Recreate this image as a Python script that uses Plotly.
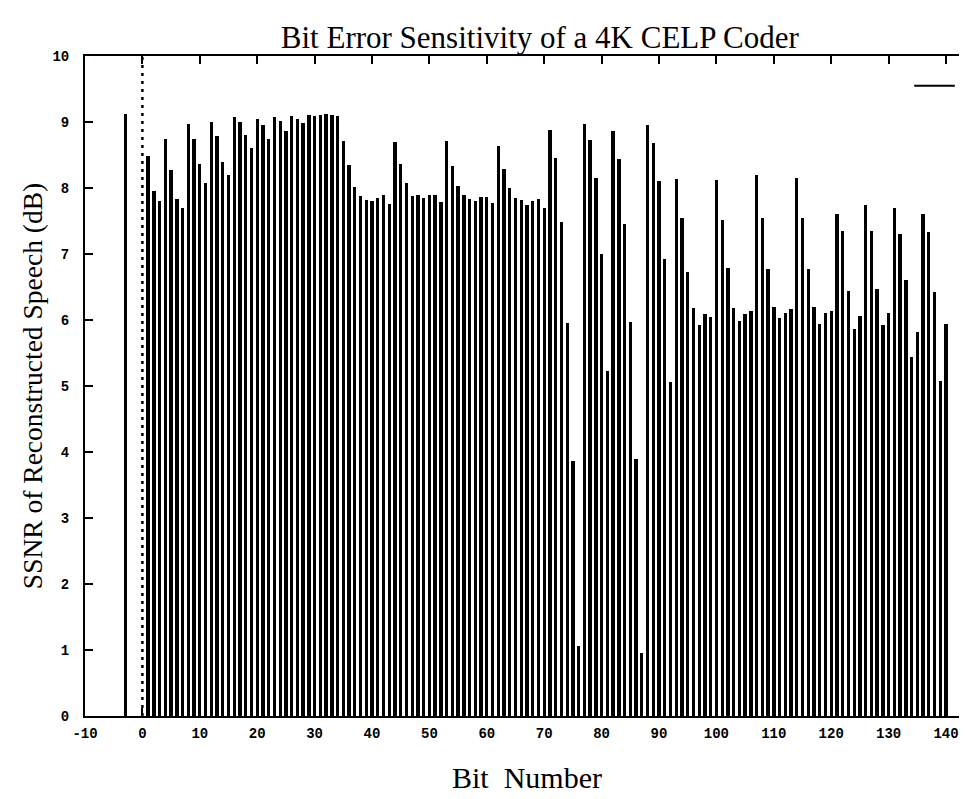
import plotly.graph_objects as go

# Bit numbers and SSNR values (dB)
ref_bit = [-3]
ref_ssnr = [9.12]

bits = list(range(1, 141))
ssnr = [
    8.49, 7.96, 7.81, 8.74, 8.28, 7.84, 7.69, 8.97, 8.75, 8.37,   # 1-10
    8.08, 9.00, 8.79, 8.39, 8.20, 9.08, 9.00, 8.81, 8.60, 9.05,   # 11-20
    8.95, 8.75, 9.07, 9.02, 8.87, 9.09, 9.05, 8.99, 9.11, 9.09,   # 21-30
    9.10, 9.12, 9.11, 9.09, 8.71, 8.35, 8.02, 7.88, 7.82, 7.80,   # 31-40
    7.85, 7.89, 7.76, 8.69, 8.37, 8.08, 7.88, 7.90, 7.85, 7.90,   # 41-50
    7.89, 7.79, 8.71, 8.34, 8.03, 7.90, 7.83, 7.80, 7.86, 7.87,   # 51-60
    7.77, 8.64, 8.29, 8.00, 7.85, 7.82, 7.75, 7.81, 7.83, 7.69,   # 61-70
    8.88, 8.46, 7.49, 5.95, 3.87, 1.06, 8.97, 8.72, 8.15, 7.00,   # 71-80
    5.22, 8.86, 8.44, 7.46, 5.97, 3.89, 0.95, 8.95, 8.68, 8.10,   # 81-90
    6.93, 5.06, 8.13, 7.55, 6.73, 6.18, 5.93, 6.09, 6.05, 8.12,   # 91-100
    7.52, 6.79, 6.18, 5.99, 6.09, 6.13, 8.19, 7.55, 6.77, 6.19,   # 101-110
    6.03, 6.11, 6.16, 8.15, 7.55, 6.77, 6.20, 5.94, 6.10, 6.14,   # 111-120
    7.60, 7.35, 6.44, 5.86, 6.06, 7.75, 7.35, 6.47, 5.92, 6.10,   # 121-130
    7.69, 7.31, 6.61, 5.44, 5.82, 7.61, 7.33, 6.42, 5.07, 5.94,   # 131-140
]

x_ticks = list(range(-10, 141, 10))
y_ticks = list(range(0, 11))

fig = go.Figure()
fig.add_trace(go.Bar(
    x=ref_bit + bits, y=ref_ssnr + ssnr,
    width=0.58, marker=dict(color="black", line=dict(width=0)),
    showlegend=False, hoverinfo="x+y",
))

# dotted zero axis at x = 0
fig.add_shape(type="line", x0=0, x1=0, y0=0, y1=1, xref="x", yref="paper",
              line=dict(color="black", width=2.5, dash="3px,5px"))
# key sample line (untitled key entry)
fig.add_shape(type="line", x0=0.938, x1=0.984, y0=0.955, y1=0.955,
              xref="paper", yref="paper", line=dict(color="black", width=2))

tickfont = dict(family="Liberation Mono, DejaVu Sans Mono, monospace",
                size=14, color="black", weight="bold")
serif = "Liberation Serif, Times New Roman, serif"

fig.update_layout(
    width=967, height=799,
    margin=dict(l=77, r=4, t=48, b=91),
    paper_bgcolor="white", plot_bgcolor="white",
    bargap=0,
    title=dict(text="Bit Error Sensitivity of a 4K CELP Coder",
               font=dict(family=serif, size=31, color="black"),
               x=0.55, xanchor="center", y=0.9637, yanchor="middle"),
    xaxis=dict(range=[-10, 144], tickvals=x_ticks, ticktext=[str(v) for v in x_ticks],
               showgrid=False, zeroline=False, showline=True, linecolor="black",
               linewidth=2, mirror="ticks", ticks="inside", ticklen=8,
               tickwidth=1.5, tickcolor="black", tickfont=tickfont,
               ticklabelstandoff=3,
               title=dict(text="Bit  Number",
                          font=dict(family=serif, size=30, color="black"),
                          standoff=26)),
    yaxis=dict(range=[0, 10], tickvals=y_ticks, ticktext=[str(v) for v in y_ticks],
               showgrid=False, zeroline=False, showline=True, linecolor="black",
               linewidth=2, mirror="ticks", ticks="inside", ticklen=8,
               tickwidth=1.5, tickcolor="black", tickfont=tickfont,
               ticklabelstandoff=11,
               title=dict(text="SSNR of Reconstructed Speech (dB)",
                          font=dict(family=serif, size=27.5, color="black"),
                          standoff=2)),
)

fig.write_html("out.html")
